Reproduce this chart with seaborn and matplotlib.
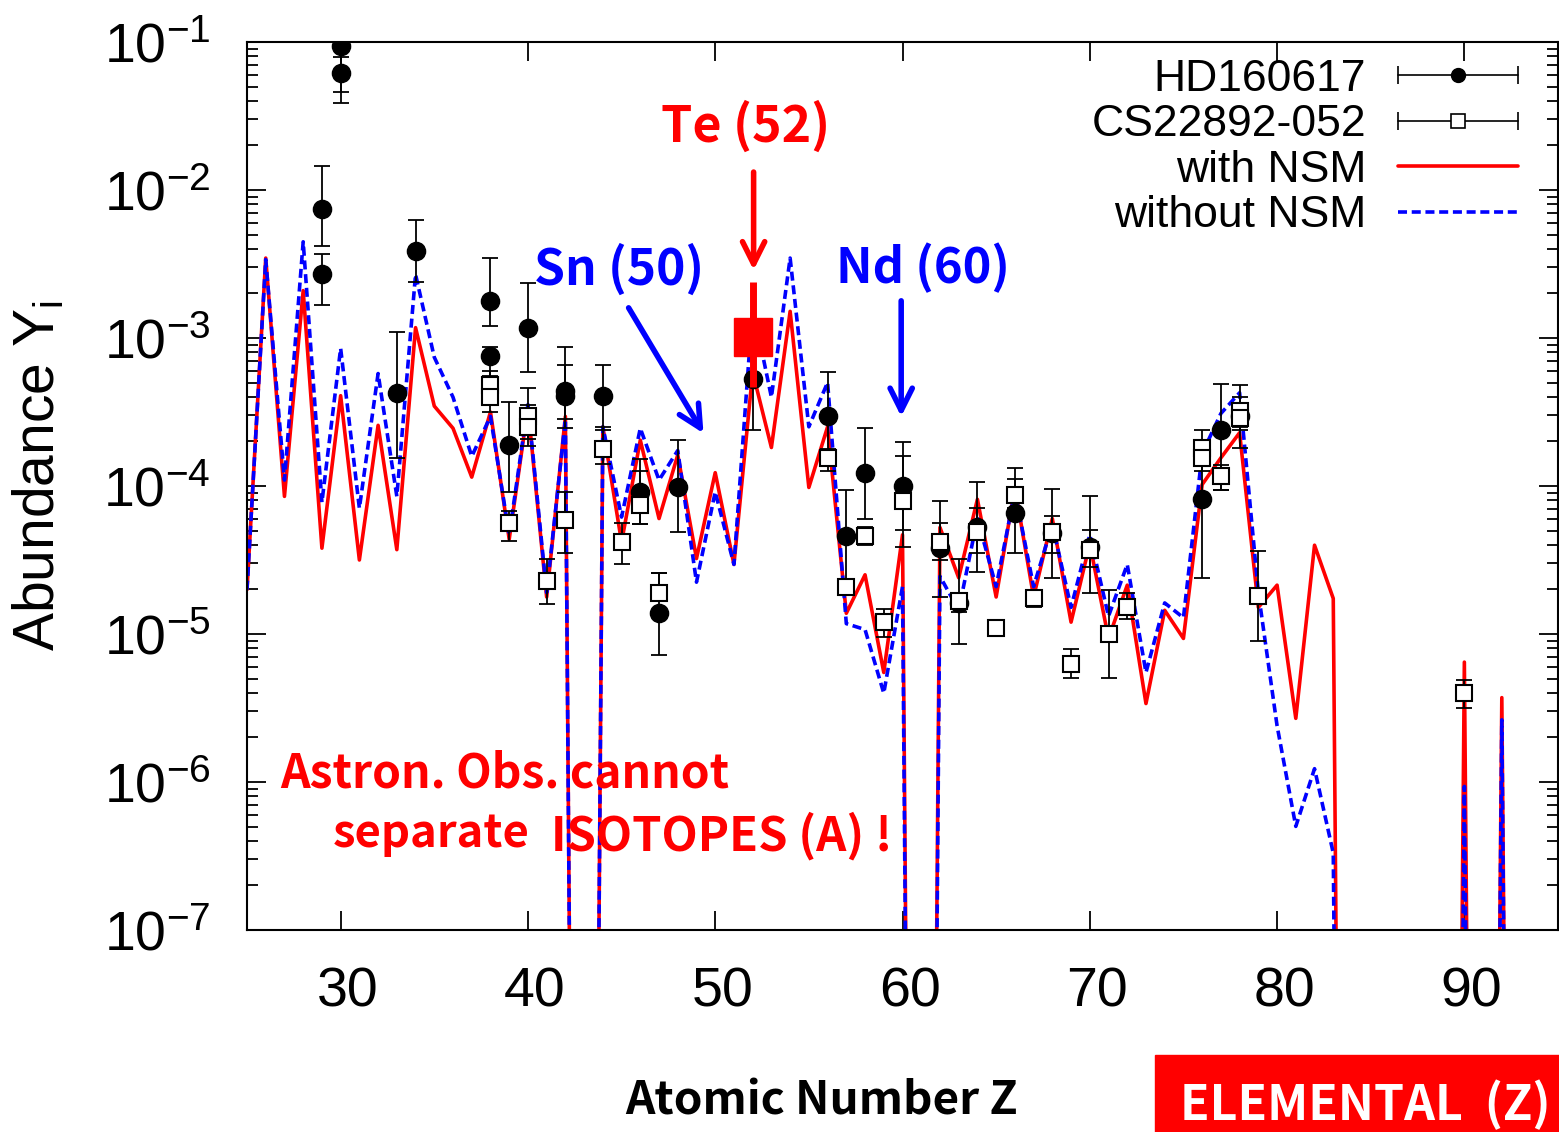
import numpy as np
import matplotlib
matplotlib.use("Agg")
import matplotlib.pyplot as plt
import seaborn as sns
from matplotlib.lines import Line2D
from matplotlib.patches import Rectangle
from matplotlib.legend_handler import HandlerTuple, HandlerLine2D
from matplotlib.ticker import LogLocator, FixedLocator, NullFormatter
from matplotlib.transforms import ScaledTranslation

# model curves, log10 abundance per Z (-20 = element not produced)
z_model = list(range(25, 94))
log_with_nsm = [-4.70, -2.46, -4.07, -2.68, -4.42, -3.39, -4.50, -3.59, -4.43, -2.93,
                -3.46, -3.61, -3.94, -3.50, -4.36, -3.47, -4.75, -3.53, -20, -3.60,
                -4.38, -3.69, -4.22, -3.79, -4.49, -3.91, -4.53, -3.23, -3.74, -2.82,
                -4.01, -3.60, -4.86, -4.60, -5.26, -4.33, -20, -4.28, -4.62, -4.09,
                -4.75, -4.01, -4.75, -4.22, -4.92, -4.39, -5.03, -4.67, -5.47, -4.84,
                -5.03, -3.99, -3.81, -3.64, -4.82, -4.67, -5.57, -4.40, -4.76, -20,
                -20, -20, -20, -20, -20, -5.19, -20, -5.43, -20]
log_without_nsm = [-4.70, -2.47, -3.96, -2.35, -4.11, -3.07, -4.15, -3.24, -4.07, -2.57,
                   -3.13, -3.40, -3.80, -3.53, -4.33, -3.45, -4.72, -3.55, -20, -3.60,
                   -4.21, -3.61, -3.96, -3.76, -4.65, -4.04, -4.53, -2.79, -3.40, -2.46,
                   -3.60, -3.30, -4.93, -4.97, -5.40, -4.68, -20, -4.61, -4.84, -4.22,
                   -4.68, -4.04, -4.68, -4.26, -4.82, -4.33, -4.88, -4.53, -5.26, -4.79,
                   -4.89, -3.78, -3.51, -3.37, -4.72, -5.62, -6.30, -5.91, -6.48, -20,
                   -20, -20, -20, -20, -20, -6.03, -20, -5.58, -20]

# HD160617 observations (log10 value, lower and upper end of the bar)
hd_z = [29, 29, 30, 30, 33, 34, 38, 38, 39, 40, 42, 42, 44, 46, 47, 48, 52, 56, 57, 58,
        60, 62, 63, 64, 66, 68, 70, 76, 77, 78]
hd_log = [-2.13, -2.57, -1.03, -1.21, -3.37, -2.41, -2.75, -3.12, -3.72, -2.93, -3.36,
          -3.39, -3.39, -4.04, -4.86, -4.01, -3.28, -3.53, -4.34, -3.91, -4.00, -4.42,
          -4.79, -4.28, -4.18, -4.32, -4.41, -4.09, -3.62, -3.53]
hd_lo = [-2.38, -2.78, -1.34, -1.41, -3.81, -2.62, -2.92, -3.26, -4.04, -3.23, -3.61,
         -3.55, -3.62, -4.26, -5.14, -4.31, -3.62, -3.80, -4.64, -4.22, -4.41, -4.75,
         -5.07, -4.58, -4.45, -4.62, -4.72, -4.62, -4.03, -3.74]
hd_hi = [-1.84, -2.43, -1.00, -1.10, -2.96, -2.20, -2.46, -3.06, -3.43, -2.63, -3.06,
         -3.18, -3.18, -3.82, -4.59, -3.69, -3.00, -3.23, -4.03, -3.61, -3.70, -4.10,
         -4.49, -3.97, -3.88, -4.02, -4.07, -3.80, -3.31, -3.32]

# CS22892-052 observations
cs_z = [38, 38, 39, 40, 40, 41, 42, 44, 45, 46, 47, 56, 57, 58, 59, 60, 62, 63, 64, 65,
        66, 67, 68, 69, 70, 71, 72, 76, 76, 77, 78, 78, 79, 90]
cs_log = [-3.32, -3.40, -4.25, -3.53, -3.60, -4.64, -4.23, -3.75, -4.38, -4.13, -4.72,
          -3.81, -4.68, -4.34, -4.92, -4.10, -4.38, -4.78, -4.31, -4.96, -4.06, -4.76,
          -4.31, -5.20, -4.43, -5.00, -4.82, -3.74, -3.81, -3.93, -3.49, -3.54, -4.74,
          -5.40]
cs_lo = [-3.45, -3.50, -4.37, -3.73, -3.68, -4.80, -4.45, -3.85, -4.53, -4.26, -4.77,
         -3.90, -4.73, -4.40, -5.02, -4.30, -4.50, -4.85, -4.45, -4.96, -4.15, -4.82,
         -4.45, -5.30, -4.55, -5.30, -4.90, -3.85, -3.90, -4.03, -3.60, -3.62, -5.05,
         -5.50]
cs_hi = [-3.22, -3.30, -4.17, -3.34, -3.45, -4.49, -4.04, -3.60, -4.25, -3.90, -4.59,
         -3.75, -4.63, -4.28, -4.83, -3.80, -4.25, -4.72, -4.15, -4.96, -3.95, -4.70,
         -4.20, -5.10, -4.30, -4.70, -4.72, -3.62, -3.70, -3.86, -3.40, -3.45, -4.44,
         -5.31]

# Te highlight
te_z = [52]
te_log = [-2.99]
te_lo = [-3.33]
te_hi = [-2.62]

W, H = 1559, 1132
sns.set_theme(style="ticks")
plt.rcParams["font.family"] = ["Liberation Sans", "DejaVu Sans"]
plt.rcParams["mathtext.fontset"] = "custom"
plt.rcParams["mathtext.rm"] = "Liberation Sans"
plt.rcParams["mathtext.it"] = "Liberation Sans:italic"
for k in ["text.color", "axes.labelcolor", "xtick.color", "ytick.color", "axes.edgecolor"]:
    plt.rcParams[k] = "black"
bold_font = ["Noto Sans CJK JP", "DejaVu Sans"]
dash = (0, (2.5, 1.3))

fig = plt.figure(figsize=(W / 100, H / 100), dpi=100)
ax = fig.add_axes([247 / W, 1 - 930 / H, 1311 / W, 888 / H])

y_with = np.power(10.0, log_with_nsm)
y_without = np.power(10.0, log_without_nsm)
sns.lineplot(x=z_model, y=y_with, ax=ax, color="red", lw=2.6, zorder=2)
sns.lineplot(x=z_model, y=y_without, ax=ax, color="blue", lw=2.6,
             linestyle=dash, zorder=2.1)


def bars(lg, lo, hi):
    y = np.power(10.0, lg)
    return y, [y - np.power(10.0, lo), np.power(10.0, hi) - y]


y_hd, e_hd = bars(hd_log, hd_lo, hd_hi)
ax.errorbar(hd_z, y_hd, yerr=e_hd, fmt="none", ecolor="black", elinewidth=1.3,
            capsize=6, capthick=1.3, zorder=3)
sns.scatterplot(x=hd_z, y=y_hd, ax=ax, color="black", s=170, marker="o",
                edgecolor="black", zorder=4)

y_cs, e_cs = bars(cs_log, cs_lo, cs_hi)
ax.errorbar(cs_z, y_cs, yerr=e_cs, fmt="none", ecolor="black", elinewidth=1.3,
            capsize=6, capthick=1.3, zorder=3)
ax.plot(cs_z, y_cs, ls="none", marker="s", ms=11, mfc="white", mec="black",
        mew=1.5, zorder=4)

y_te, e_te = bars(te_log, te_lo, te_hi)
ax.errorbar(te_z, y_te, yerr=e_te, fmt="s", color="red", ms=27, elinewidth=5,
            capsize=0, zorder=5)

ax.set_yscale("log")
ax.set_xlim(25, 95)
ax.set_ylim(1e-7, 1e-1)
ax.xaxis.set_major_locator(FixedLocator([30, 40, 50, 60, 70, 80, 90]))
ax.yaxis.set_major_locator(LogLocator(base=10, numticks=12))
ax.yaxis.set_minor_locator(LogLocator(base=10, subs=np.arange(2, 10), numticks=12))
ax.yaxis.set_minor_formatter(NullFormatter())
ax.tick_params(which="both", direction="in", top=True, right=True, width=1.3)
ax.tick_params(which="major", length=14, labelsize=40)
ax.tick_params(which="minor", length=8)
ax.tick_params(axis="y", pad=26)
ax.tick_params(axis="x", pad=26)
for sp in ax.spines.values():
    sp.set_linewidth(1.5)

ax.set_ylabel("Abundance Y$_\\mathrm{i}$", fontsize=41, va="center")
ax.yaxis.set_label_coords(-0.159, 0.512)
ax.set_xlabel("Atomic Number Z", fontsize=46, fontweight="bold", family=bold_font,
              va="baseline")
ax.xaxis.set_label_coords(0.4386, -0.2083)

# legend in gnuplot style: key text first, sample on the right
cap1 = Line2D([], [], color="black", lw=1.2, marker="|", ms=13, mew=1.2)
dot = Line2D([], [], ls="none", marker="o", color="black", ms=10)
cap2 = Line2D([], [], color="black", lw=1.2, marker="|", ms=13, mew=1.2)
sq = Line2D([], [], ls="none", marker="s", mfc="white", mec="black", ms=10, mew=1.2)
red_h = Line2D([], [], color="red", lw=2.6)
blue_h = Line2D([], [], color="blue", lw=2.6, ls=dash)
hmap = {tuple: HandlerTuple(ndivide=1, pad=0),
        cap1: HandlerLine2D(numpoints=2, marker_pad=0),
        cap2: HandlerLine2D(numpoints=2, marker_pad=0),
        dot: HandlerLine2D(numpoints=1),
        sq: HandlerLine2D(numpoints=1)}
ax.legend([(cap1, dot), (cap2, sq), red_h, blue_h],
          ["HD160617", "CS22892-052", "with NSM", "without NSM"],
          handler_map=hmap, loc="upper right", bbox_to_anchor=(0.9695, 0.981),
          frameon=False, fontsize=32, markerfirst=False, handlelength=2.7,
          handletextpad=0.72, labelspacing=0.1, borderpad=0, borderaxespad=0)

# annotations (bold captions; sizes fitted to the widths below)
big = dict(fontweight="bold", family=bold_font, va="baseline")
t_te = ax.text(51.6, 10 ** -1.676, "Te (52)", color="red", ha="center", **big)
ax.annotate("", xy=(52.05, 10 ** -2.56), xytext=(52.05, 10 ** -1.86),
            arrowprops=dict(arrowstyle="->", color="red", lw=4, mutation_scale=40))
t_sn = ax.text(44.86, 10 ** -2.642, "Sn (50)", color="blue", ha="center", **big)
ax.annotate("", xy=(49.45, 10 ** -3.66), xytext=(45.3, 10 ** -2.78),
            arrowprops=dict(arrowstyle="->", color="blue", lw=4, mutation_scale=40))
t_nd = ax.text(61.1, 10 ** -2.628, "Nd (60)", color="blue", ha="center", **big)
ax.annotate("", xy=(59.93, 10 ** -3.55), xytext=(59.93, 10 ** -2.73),
            arrowprops=dict(arrowstyle="->", color="blue", lw=4, mutation_scale=40))
t_a1 = ax.text(26.75, 10 ** -6.034, "Astron. Obs. cannot", color="red", ha="left", **big)
t_a2 = ax.text(29.57, 10 ** -6.44, "separate", color="red", ha="left", **big)
t_a3 = ax.text(41.24, 10 ** -6.46, "ISOTOPES (A) !", color="red", ha="left", **big)

fig.patches.append(Rectangle((1155 / W, 0), (W - 1155) / W, 77 / H,
                             transform=fig.transFigure, color="red", zorder=0))
t_el = fig.text(1365 / W, 1 - 1120 / H, "ELEMENTAL  (Z)", color="white", ha="center",
                **big)

# fit each caption to its width in the reference (pixels)
renderer = fig.canvas.get_renderer()
for t, width in [(t_te, 169), (t_sn, 170), (t_nd, 174), (t_a1, 450), (t_a2, 197),
                 (t_a3, 341), (t_el, 370), (ax.xaxis.label, 393)]:
    t.set_fontsize(40)
    w = t.get_window_extent(renderer=renderer).width
    t.set_fontsize(40 * width / w)

# gnuplot puts the x labels a little right of their ticks
for lab in ax.get_xticklabels():
    lab.set_transform(lab.get_transform() + ScaledTranslation(0.07, 0, fig.dpi_scale_trans))

fig.savefig("out.png", dpi=100)
